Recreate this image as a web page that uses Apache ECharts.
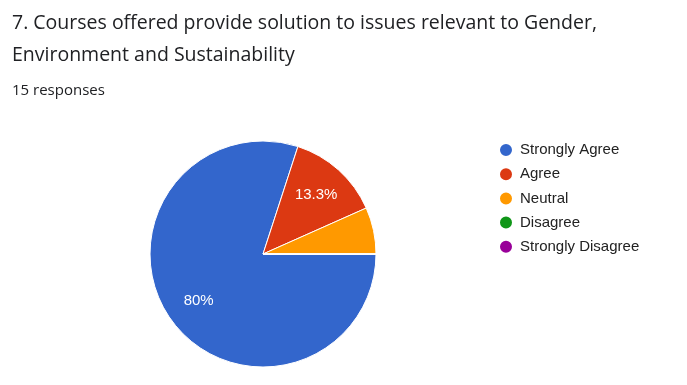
<!DOCTYPE html>
<html><head><meta charset="utf-8">
<script src="https://cdn.jsdelivr.net/npm/echarts@6/dist/echarts.min.js"></script>
<style>html,body{margin:0;padding:0;background:#fff}#c{width:687px;height:385px}</style>
</head><body><div id="c"></div>
<script>
const titleText = '7. Courses offered provide solution to issues relevant to Gender,\nEnvironment and Sustainability';
const subText = '15 responses';
const categories = ['Strongly Agree', 'Agree', 'Neutral', 'Disagree', 'Strongly Disagree'];
const counts = [12, 2, 1, 0, 0];
const colors = ['#3366cc', '#dc3912', '#ff9900', '#109618', '#990099'];

const total = counts.reduce((a, b) => a + b, 0);
const data = categories.map((n, i) => ({ name: n, value: counts[i], itemStyle: { color: colors[i] } }));

const chart = echarts.init(document.getElementById('c'), null, { renderer: 'canvas' });
chart.setOption({
  animation: false,
  title: {
    text: titleText,
    subtext: subText,
    left: 12, top: 7, padding: 0,
    itemGap: 12,
    textStyle: { fontFamily: 'Open Sans', fontSize: 19.5, fontWeight: 'normal', color: '#202124', lineHeight: 32 },
    subtextStyle: { fontFamily: 'Open Sans', fontSize: 15, color: '#202124' }
  },
  legend: {
    orient: 'vertical', left: 498, top: 142, padding: 0,
    icon: 'circle', itemWidth: 14, itemHeight: 14, itemGap: 8.2,
    data: categories,
    textStyle: { fontFamily: 'Liberation Sans', fontSize: 15, color: '#222222', padding: [0, 0, 0, 2] }
  },
  series: [
    {
      type: 'pie', center: [263, 254], radius: [0, 113], startAngle: 0, clockwise: true,
      data: data, silent: true,
      itemStyle: { borderColor: '#ffffff', borderWidth: 1 },
      label: { show: false }, labelLine: { show: false }
    },
    {
      type: 'pie', center: [263, 254], radius: [40, 113], startAngle: 0, clockwise: true,
      silent: true, legendHoverLink: false,
      data: categories.map((n, i) => ({ name: n, value: counts[i], itemStyle: { color: 'rgba(0,0,0,0)' } })),
      itemStyle: { borderWidth: 0 },
      label: {
        show: true, position: 'inside',
        fontFamily: 'Liberation Sans', fontSize: 15, color: '#ffffff',
        formatter: p => {
          const pct = p.value / total * 100;
          if (pct < 10) return '';
          return (Math.round(pct * 10) / 10) + '%';
        }
      },
      labelLine: { show: false }
    }
  ]
});
</script></body></html>
